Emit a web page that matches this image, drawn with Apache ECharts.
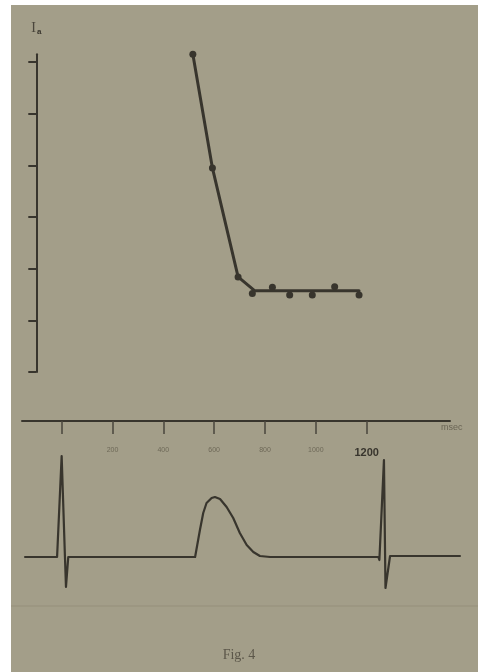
<!DOCTYPE html>
<html>
<head>
<meta charset="utf-8">
<script src="https://cdn.jsdelivr.net/npm/echarts@6/dist/echarts.min.js"></script>
<style>
  html, body { margin: 0; padding: 0; background: #ffffff; }
  #chart { width: 478px; height: 672px; }
</style>
</head>
<body>
<div id="chart"></div>
<script>
// upper plot: measured points (msec, arbitrary units) and the drawn trend line
const pointsMs = [516, 593, 694, 750, 829, 897, 986, 1074, 1170];
const pointsVal = [6.15, 3.95, 1.84, 1.52, 1.64, 1.49, 1.49, 1.65, 1.49];
const trendMs = [516, 593, 694, 760, 1170];
const trendVal = [6.15, 3.95, 1.84, 1.57, 1.57];
const yTicks = [0, 1, 2, 3, 4, 5, 6];

// time axis
const xTicks = [0, 200, 400, 600, 800, 1000, 1200];
const xLabels = [200, 400, 600, 800, 1000, 1200];

// ECG trace below the axis (msec, deflection)
const ecgMs = [-144, -18, -13, 0, 13, 17, 26, 525, 544, 557, 570, 590, 603, 623, 649, 675, 701, 728, 754, 780, 820,
  1246, 1250, 1268, 1274, 1292, 1311, 1567];
const ecgVal = [0, 0, 0, 101, 0, -30, 0, 0, 27, 44, 54, 59, 60, 58, 50, 39, 24, 12, 5, 1, 0,
  0, -3, 97, -31, 1, 1, 1];

const ink = '#38352d';
const paper = '#a39e89';

const chart = echarts.init(document.getElementById('chart'));

const option = {
  backgroundColor: '#ffffff',
  animation: false,
  graphic: [
    { type: 'rect', z: -10, shape: { x: 11, y: 5, width: 467, height: 667 }, style: { fill: paper } },
    { type: 'line', z: -9, shape: { x1: 11, y1: 606, x2: 478, y2: 606 }, style: { stroke: '#958f7a', lineWidth: 1 } }
  ],
  title: {
    text: 'Fig. 4',
    left: 'center',
    top: 643,
    textStyle: { fontFamily: 'Liberation Serif', fontSize: 14, fontWeight: 'normal', color: '#5c574a' }
  },
  grid: [
    { left: 36.3, right: 85.9, top: 54.2, height: 317.8 },
    { left: 22, right: 28, top: 380, height: 41 },
    { left: 22, right: 0, top: 437, height: 160 }
  ],
  xAxis: [
    { gridIndex: 0, type: 'value', min: -100, max: 1300, show: false },
    {
      gridIndex: 1, type: 'value', min: -156, max: 1528,
      name: 'msec', nameLocation: 'end', nameGap: -9,
      nameTextStyle: { color: '#6a6555', fontSize: 9, align: 'left', verticalAlign: 'top', padding: [2, 0, 0, 0] },
      axisLine: { lineStyle: { color: ink, width: 2 } },
      splitLine: { show: false },
      axisTick: { customValues: xTicks, length: 13, lineStyle: { color: '#4a463c', width: 1.5 } },
      axisLabel: {
        customValues: xLabels,
        margin: 26,
        fontSize: 7,
        color: '#6e6958',
        formatter: v => v === 1200 ? '{b|1200}' : String(v),
        rich: { b: { fontSize: 11, fontWeight: 'bold', color: ink } }
      }
    },
    { gridIndex: 2, type: 'value', min: -156, max: 1638, show: false }
  ],
  yAxis: [
    {
      gridIndex: 0, type: 'value', min: 0, max: 6.15,
      name: '{i|I}{s|a}', nameLocation: 'end', nameGap: 18,
      nameTextStyle: { rich: { i: { fontSize: 14, color: '#4a463c', fontFamily: 'Liberation Serif' }, s: { fontSize: 8, fontWeight: 'bold', color: ink, padding: [8, 0, 0, 1] } } },
      axisLine: { show: true, onZero: false, lineStyle: { color: ink, width: 2 } },
      axisTick: { show: true, customValues: yTicks, length: 8, lineStyle: { color: ink, width: 2 } },
      axisLabel: { show: false },
      splitLine: { show: false }
    },
    { gridIndex: 1, type: 'value', show: false, min: 0, max: 1 },
    { gridIndex: 2, type: 'value', show: false, min: -40, max: 120 }
  ],
  series: [
    {
      type: 'line', xAxisIndex: 0, yAxisIndex: 0, clip: false,
      data: trendMs.map((x, i) => [x, trendVal[i]]),
      showSymbol: false,
      lineStyle: { color: ink, width: 3, join: 'round', cap: 'round' }
    },
    {
      type: 'scatter', xAxisIndex: 0, yAxisIndex: 0, clip: false,
      data: pointsMs.map((x, i) => [x, pointsVal[i]]),
      symbolSize: 7,
      itemStyle: { color: ink, opacity: 1 }
    },
    {
      type: 'line', xAxisIndex: 2, yAxisIndex: 2, clip: false,
      data: ecgMs.map((x, i) => [x, ecgVal[i]]),
      showSymbol: false,
      lineStyle: { color: ink, width: 2.2, join: 'round', cap: 'round' }
    }
  ]
};

chart.setOption(option);
</script>
</body>
</html>
